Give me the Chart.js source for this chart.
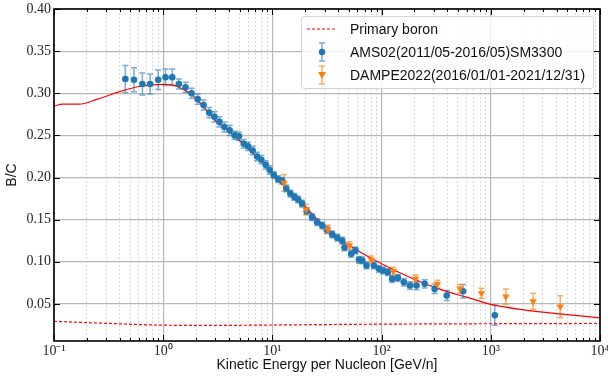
<!DOCTYPE html>
<html>
<head>
<meta charset="utf-8">
<script src="https://cdn.jsdelivr.net/npm/chart.js@4.4.1/dist/chart.umd.min.js"></script>
<style>
html, body { margin: 0; padding: 0; background: #fff; }
#wrap { width: 608px; height: 380px; }
</style>
</head>
<body>
<div id="wrap"><canvas id="chartBC"></canvas></div>
<script>
// AMS02 B/C
const amsE = [0.45, 0.54, 0.645, 0.76, 0.90, 1.05, 1.21, 1.39, 1.60, 1.82, 2.07, 2.34, 2.64, 2.95, 3.27, 3.63, 4.06, 4.51, 4.94, 5.46, 5.98, 6.6, 7.24, 7.93, 8.69, 9.45, 10.3, 11.3, 12.3, 13.4, 14.6, 15.9, 17.2, 18.7, 20.6, 23.1, 25.7, 28.6, 31.5, 35.3, 39.3, 43.6, 45.7, 52.7, 57.7, 62, 66.5, 72.8, 85, 94.4, 103, 114, 125, 141, 160, 182, 209, 248, 306, 395, 557, 1089];
const amsBC = [0.317, 0.316, 0.311, 0.311, 0.316, 0.319, 0.319, 0.311, 0.307, 0.300, 0.293, 0.286, 0.277, 0.272, 0.266, 0.260, 0.256, 0.250, 0.249, 0.240, 0.237, 0.232, 0.225, 0.221, 0.215, 0.209, 0.203, 0.198, 0.196, 0.187, 0.181, 0.177, 0.174, 0.169, 0.160, 0.153, 0.147, 0.143, 0.138, 0.1325, 0.1286, 0.125, 0.117, 0.1095, 0.1135, 0.1024, 0.1016, 0.0956, 0.0956, 0.0917, 0.0897, 0.0877, 0.0797, 0.0809, 0.0757, 0.0718, 0.0718, 0.0738, 0.0678, 0.060, 0.065, 0.0366];
const amsErr = [0.016, 0.0143, 0.013, 0.012, 0.0115, 0.0097, 0.0097, 0.006, 0.006, 0.006, 0.006, 0.006, 0.006, 0.006, 0.006, 0.006, 0.006, 0.005, 0.005, 0.005, 0.005, 0.005, 0.005, 0.005, 0.005, 0.005, 0.004, 0.004, 0.004, 0.004, 0.004, 0.004, 0.004, 0.004, 0.004, 0.004, 0.004, 0.004, 0.004, 0.004, 0.004, 0.004, 0.004, 0.004, 0.004, 0.004, 0.004, 0.004, 0.004, 0.004, 0.004, 0.004, 0.004, 0.004, 0.0045, 0.0045, 0.005, 0.005, 0.0055, 0.006, 0.008, 0.012];

// DAMPE 2022 B/C
const dampeE = [12.8, 20.4, 32.2, 50.8, 80.4, 128, 205, 324, 522, 822, 1374, 2444, 4325];
const dampeBC = [0.1936, 0.162, 0.1384, 0.1194, 0.1024, 0.0889, 0.0797, 0.0735, 0.068, 0.0626, 0.0586, 0.0531, 0.0467];
const dampeErr = [0.010, 0.0063, 0.005, 0.0045, 0.0045, 0.0045, 0.0045, 0.0045, 0.005, 0.006, 0.009, 0.0095, 0.013];

// model curves
const modelE = [0.1, 0.12, 0.17, 0.25, 0.4, 0.6, 0.8, 1.0, 1.2, 1.5, 1.8, 2.3, 3.1, 4.0, 5, 7, 10, 15, 20, 30, 50, 100, 200, 350, 600, 1000, 2000, 4000, 10000];
const modelBC = [0.285, 0.287, 0.287, 0.293, 0.302, 0.308, 0.310, 0.3105, 0.310, 0.305, 0.299, 0.285, 0.266, 0.255, 0.244, 0.226, 0.205, 0.180, 0.165, 0.142, 0.120, 0.0976, 0.079, 0.067, 0.058, 0.0495, 0.043, 0.0385, 0.0335];
const primE = [0.1, 0.3, 1, 3, 10, 100, 1000, 10000];
const primBC = [0.0293, 0.027, 0.0248, 0.0245, 0.025, 0.026, 0.0265, 0.0268];

// axes
const xMajor = [0.1, 1, 10, 100, 1000, 10000];
const xLabels = ['10\u207B\u00B9', '10\u2070', '10\u00B9', '10\u00B2', '10\u00B3', '10\u2074'];
const yTicks = [0.05, 0.10, 0.15, 0.20, 0.25, 0.30, 0.35, 0.40];

const legendItems = ['Primary boron', 'AMS02(2011/05-2016/05)SM3300', 'DAMPE2022(2016/01/01-2021/12/31)'];

const toXY = (xs, ys) => xs.map((v, i) => ({ x: v, y: ys[i] }));

function drawBars(ctx, sx, sy, xs, ys, es, color) {
    ctx.save();
    ctx.strokeStyle = color;
    ctx.lineWidth = 1.5;
    xs.forEach((v, i) => {
        const px = sx.getPixelForValue(v);
        const top = sy.getPixelForValue(ys[i] + es[i]);
        const bot = sy.getPixelForValue(ys[i] - es[i]);
        ctx.beginPath();
        ctx.moveTo(px, top); ctx.lineTo(px, bot);
        ctx.moveTo(px - 3, top); ctx.lineTo(px + 3, top);
        ctx.moveTo(px - 3, bot); ctx.lineTo(px + 3, bot);
        ctx.stroke();
    });
    ctx.restore();
}

const extras = {
    id: 'bcExtras',
    beforeDatasetsDraw(chart) {
        const { ctx, scales: { x, y } } = chart;
        ctx.save();
        const a = chart.chartArea;
        ctx.beginPath();
        ctx.rect(a.left, a.top, a.right - a.left, a.bottom - a.top);
        ctx.clip();
        drawBars(ctx, x, y, amsE, amsBC, amsErr, 'rgba(31,119,180,0.6)');
        drawBars(ctx, x, y, dampeE, dampeBC, dampeErr, 'rgba(255,127,14,0.65)');
        ctx.restore();
    },
    afterDraw(chart) {
        const { ctx, scales: { x, y } } = chart;
        const a = chart.chartArea;
        ctx.save();
        // inward ticks
        ctx.strokeStyle = '#000';
        ctx.lineWidth = 1;
        ctx.beginPath();
        x.ticks.forEach(t => {
            const px = Math.round(x.getPixelForValue(t.value)) + 0.5;
            const len = xMajor.includes(t.value) ? 6 : 3;
            ctx.moveTo(px, a.bottom); ctx.lineTo(px, a.bottom - len);
            ctx.moveTo(px, a.top); ctx.lineTo(px, a.top + len);
        });
        y.ticks.forEach(t => {
            const py = Math.round(y.getPixelForValue(t.value)) + 0.5;
            ctx.moveTo(a.left, py); ctx.lineTo(a.left + 6, py);
            ctx.moveTo(a.right, py); ctx.lineTo(a.right - 6, py);
        });
        ctx.stroke();
        // frame
        ctx.lineWidth = 1.6;
        ctx.strokeRect(a.left, a.top, a.right - a.left, a.bottom - a.top);

        // legend
        const bx = 301, by = 16, bw = 292, bh = 72;
        ctx.fillStyle = 'rgba(255,255,255,0.8)';
        ctx.strokeStyle = '#d4d4d4';
        ctx.lineWidth = 1;
        ctx.beginPath();
        ctx.roundRect(bx + 0.5, by + 0.5, bw, bh, 3);
        ctx.fill();
        ctx.stroke();

        const rows = [29, 52, 75];
        // dashed line
        ctx.strokeStyle = '#ff0000';
        ctx.lineWidth = 1.2;
        ctx.setLineDash([3, 2]);
        ctx.beginPath();
        ctx.moveTo(307, rows[0]); ctx.lineTo(337, rows[0]);
        ctx.stroke();
        ctx.setLineDash([]);
        // marker with error bar
        const sym = (cy, color, bar, tri) => {
            ctx.strokeStyle = bar;
            ctx.lineWidth = 1.5;
            ctx.beginPath();
            ctx.moveTo(322, cy - 9); ctx.lineTo(322, cy + 9);
            ctx.moveTo(319, cy - 9); ctx.lineTo(325, cy - 9);
            ctx.moveTo(319, cy + 9); ctx.lineTo(325, cy + 9);
            ctx.stroke();
            ctx.fillStyle = color;
            ctx.beginPath();
            if (tri) {
                ctx.moveTo(318, cy - 3); ctx.lineTo(326, cy - 3); ctx.lineTo(322, cy + 4);
                ctx.closePath();
            } else {
                ctx.arc(322, cy, 3.2, 0, Math.PI * 2);
            }
            ctx.fill();
        };
        sym(rows[1], '#1f77b4', 'rgba(31,119,180,0.6)', false);
        sym(rows[2], '#ff7f0e', 'rgba(255,127,14,0.65)', true);

        ctx.fillStyle = '#111';
        ctx.font = '14px "Liberation Sans"';
        ctx.textBaseline = 'middle';
        legendItems.forEach((s, i) => ctx.fillText(s, 350, rows[i] + 1));
        ctx.restore();
    }
};

new Chart(document.getElementById('chartBC').getContext('2d'), {
    type: 'scatter',
    data: {
        datasets: [{
            label: 'model',
            data: toXY(modelE, modelBC),
            showLine: true,
            borderColor: '#ff0000',
            borderWidth: 1.2,
            pointRadius: 0,
            cubicInterpolationMode: 'monotone',
            order: 4
        }, {
            label: legendItems[0],
            data: toXY(primE, primBC),
            showLine: true,
            borderColor: '#ff0000',
            borderWidth: 1.2,
            borderDash: [3, 2],
            pointRadius: 0,
            cubicInterpolationMode: 'monotone',
            order: 3
        }, {
            label: legendItems[1],
            data: toXY(amsE, amsBC),
            pointStyle: 'circle',
            pointRadius: 3.3,
            backgroundColor: '#1f77b4',
            borderColor: '#1f77b4',
            borderWidth: 0,
            order: 2
        }, {
            label: legendItems[2],
            data: toXY(dampeE, dampeBC),
            pointStyle: 'triangle',
            rotation: 180,
            pointRadius: 4.3,
            backgroundColor: '#ff7f0e',
            borderColor: '#ff7f0e',
            borderWidth: 0,
            order: 1
        }]
    },
    options: {
        responsive: true,
        maintainAspectRatio: false,
        animation: false,
        layout: { padding: { top: 9, right: 8, left: 0, bottom: 0 } },
        plugins: {
            legend: { display: false },
            tooltip: { enabled: false }
        },
        scales: {
            x: {
                type: 'logarithmic',
                min: 0.1,
                max: 10000,
                afterBuildTicks: s => {
                    const t = [];
                    xMajor.forEach((d, i) => {
                        t.push({ value: d });
                        if (i < xMajor.length - 1) for (let k = 2; k < 10; k++) t.push({ value: d * k });
                    });
                    s.ticks = t;
                },
                afterFit: s => { s.height = 39; s.paddingLeft = 0; s.paddingRight = 0; },
                ticks: {
                    autoSkip: false,
                    maxRotation: 0,
                    padding: 2,
                    color: '#262626',
                    font: { family: '"Liberation Serif"', size: 14 },
                    callback: (v, i, ticks) => {
                        const j = xMajor.indexOf(ticks[i].value);
                        return j >= 0 ? xLabels[j] : '';
                    }
                },
                grid: {
                    drawTicks: false,
                    color: c => (c.tick && xMajor.includes(c.tick.value)) ? '#b8b8b8' : '#cfcfcf',
                    lineWidth: c => (c.tick && xMajor.includes(c.tick.value)) ? 1.2 : 0.8
                },
                border: {
                    display: false,
                    dash: c => (c.tick && xMajor.includes(c.tick.value)) ? [] : [2, 2]
                },
                title: {
                    display: true,
                    text: 'Kinetic Energy per Nucleon [GeV/n]',
                    color: '#111',
                    font: { family: '"Liberation Sans"', size: 14 },
                    padding: { top: 0, bottom: 6 }
                }
            },
            y: {
                min: 0.006,
                max: 0.40,
                afterBuildTicks: s => { s.ticks = yTicks.map(v => ({ value: v })); },
                afterFit: s => { s.width = 54; s.paddingTop = 0; s.paddingBottom = 0; },
                ticks: {
                    padding: 3,
                    color: '#262626',
                    font: { family: '"Liberation Serif"', size: 14 },
                    callback: v => v.toFixed(2)
                },
                grid: {
                    drawTicks: false,
                    color: '#b8b8b8',
                    lineWidth: 1.2
                },
                border: { display: false },
                title: {
                    display: true,
                    text: 'B/C',
                    color: '#111',
                    font: { family: '"Liberation Sans"', size: 14 },
                    padding: { top: 4, bottom: 0 }
                }
            }
        }
    },
    plugins: [extras]
});
</script>
</body>
</html>
